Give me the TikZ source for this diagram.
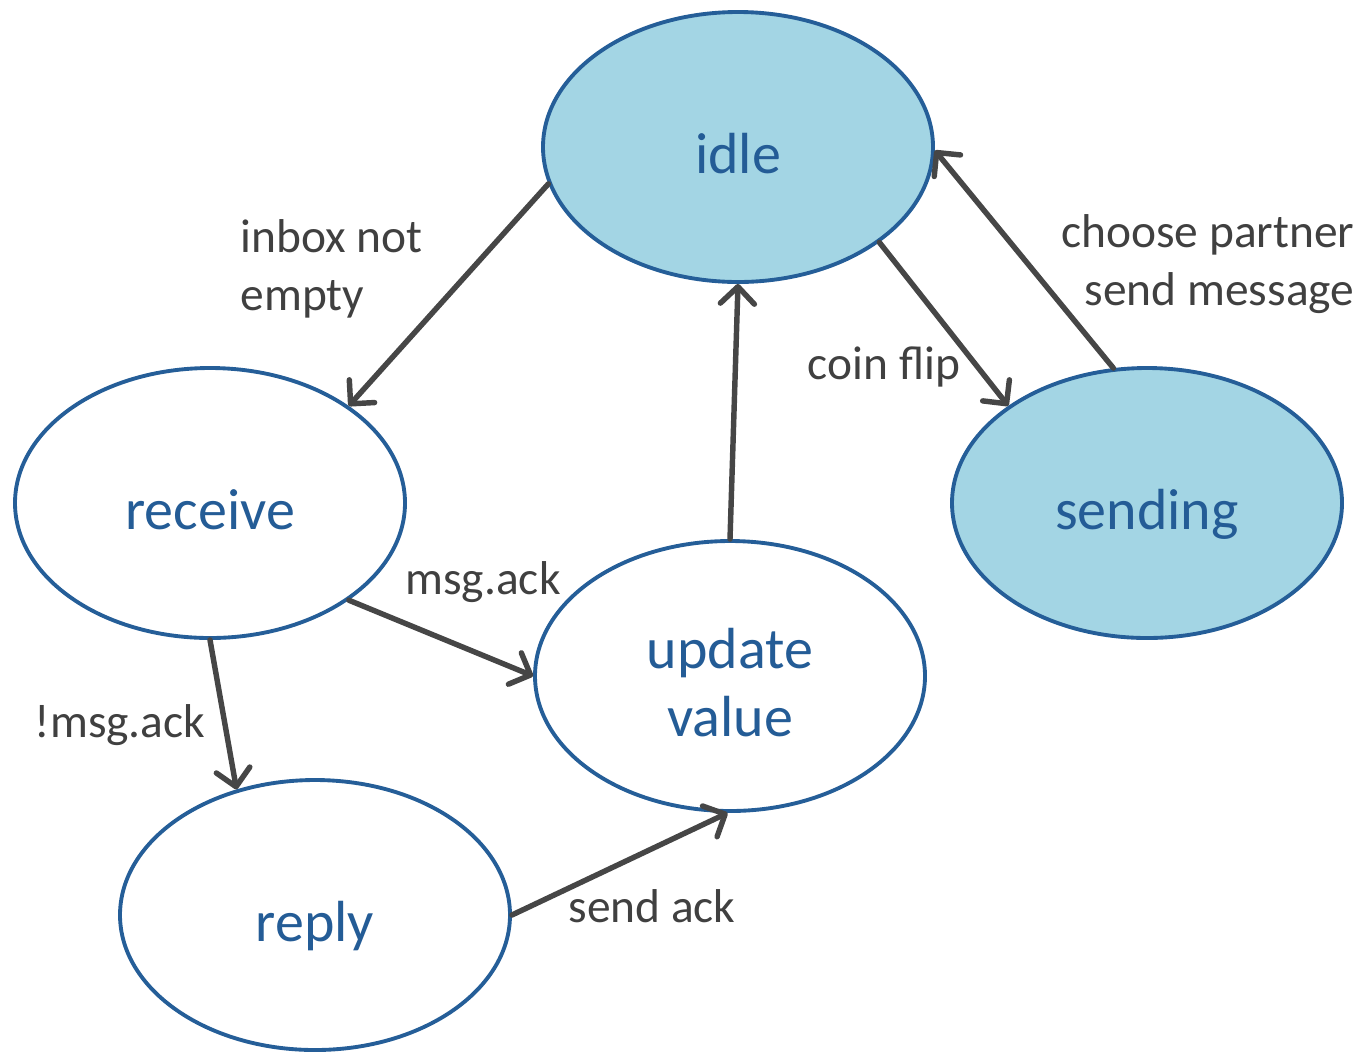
\documentclass[tikz,border=0pt]{standalone}
\usepackage{fontspec}
\setmainfont{Carlito}
\usepackage{tikz}
\usetikzlibrary{calc,shapes.geometric,arrows.meta}

\definecolor{statefill}{HTML}{A3D5E4}
\definecolor{stateline}{HTML}{255E98}
\definecolor{statetext}{HTML}{245C96}
\definecolor{arrowgray}{HTML}{464646}
\definecolor{labelgray}{HTML}{404040}

\begin{document}
\begin{tikzpicture}[
    state/.style={ellipse, draw=stateline, line width=1.1pt, fill=white,
        minimum width=3.9cm, minimum height=2.7cm, inner sep=0pt,
        text=statetext, font=\fontsize{16.5}{19.5}\selectfont, align=center,
        text height=15.3pt, text depth=0pt},
    active/.style={state, fill=statefill},
    trans/.style={draw=arrowgray, line width=1.55pt, line cap=round,
        -{Straight Barb[round,length=1.7mm,width=3.4mm]}},
    lbl/.style={text=labelgray, inner sep=0pt, font=\fontsize{13.5}{16.4}\selectfont}
]
    \useasboundingbox (0,0) rectangle (13.63,-10.53);

    \node[active] (idle) at (7.38,-1.47) {idle};

    \node[state] (receive) at ($(idle) + (-5.28, -3.56)$) {receive};

    \node[active] (sending) at ($(idle) + (4.09, -3.56)$) {sending};

    \node[state, text height=34.7pt] (update) at ($(idle) + (-0.08, -5.29)$) {update\\value};

    \node[state] (reply) at ($(idle) + (-4.23, -7.68)$) {reply};

    % labels
    \node[lbl, anchor=west, align=left] (inboxlbl) at (2.40, -2.69) {inbox not\\empty};
    \node[lbl, anchor=east, align=right] (chooselbl) at (13.55, -2.64) {choose partner\\send message};
    \node[lbl] (coinlbl) at (8.84, -3.67) {coin flip};
    \node[lbl] (acklbl) at (4.83, -5.82) {msg.ack};
    \node[lbl] (noacklbl) at (1.20, -7.25) {!msg.ack};
    \node[lbl] (sendacklbl) at (6.52, -9.06) {send ack};

    \draw[trans] (idle.191) -- (receive.35);
    \draw[trans] (sending.104) -- (idle.359);
    \draw[trans] (idle.326) -- (sending.145);
    \draw[trans] (update.90) -- (idle.270);
    \draw[trans] (receive.325) -- (update.180);
    \draw[trans] (receive.270) -- (reply.122);
    \draw[trans] (reply.0) -- (update.269);

\end{tikzpicture}
\end{document}
